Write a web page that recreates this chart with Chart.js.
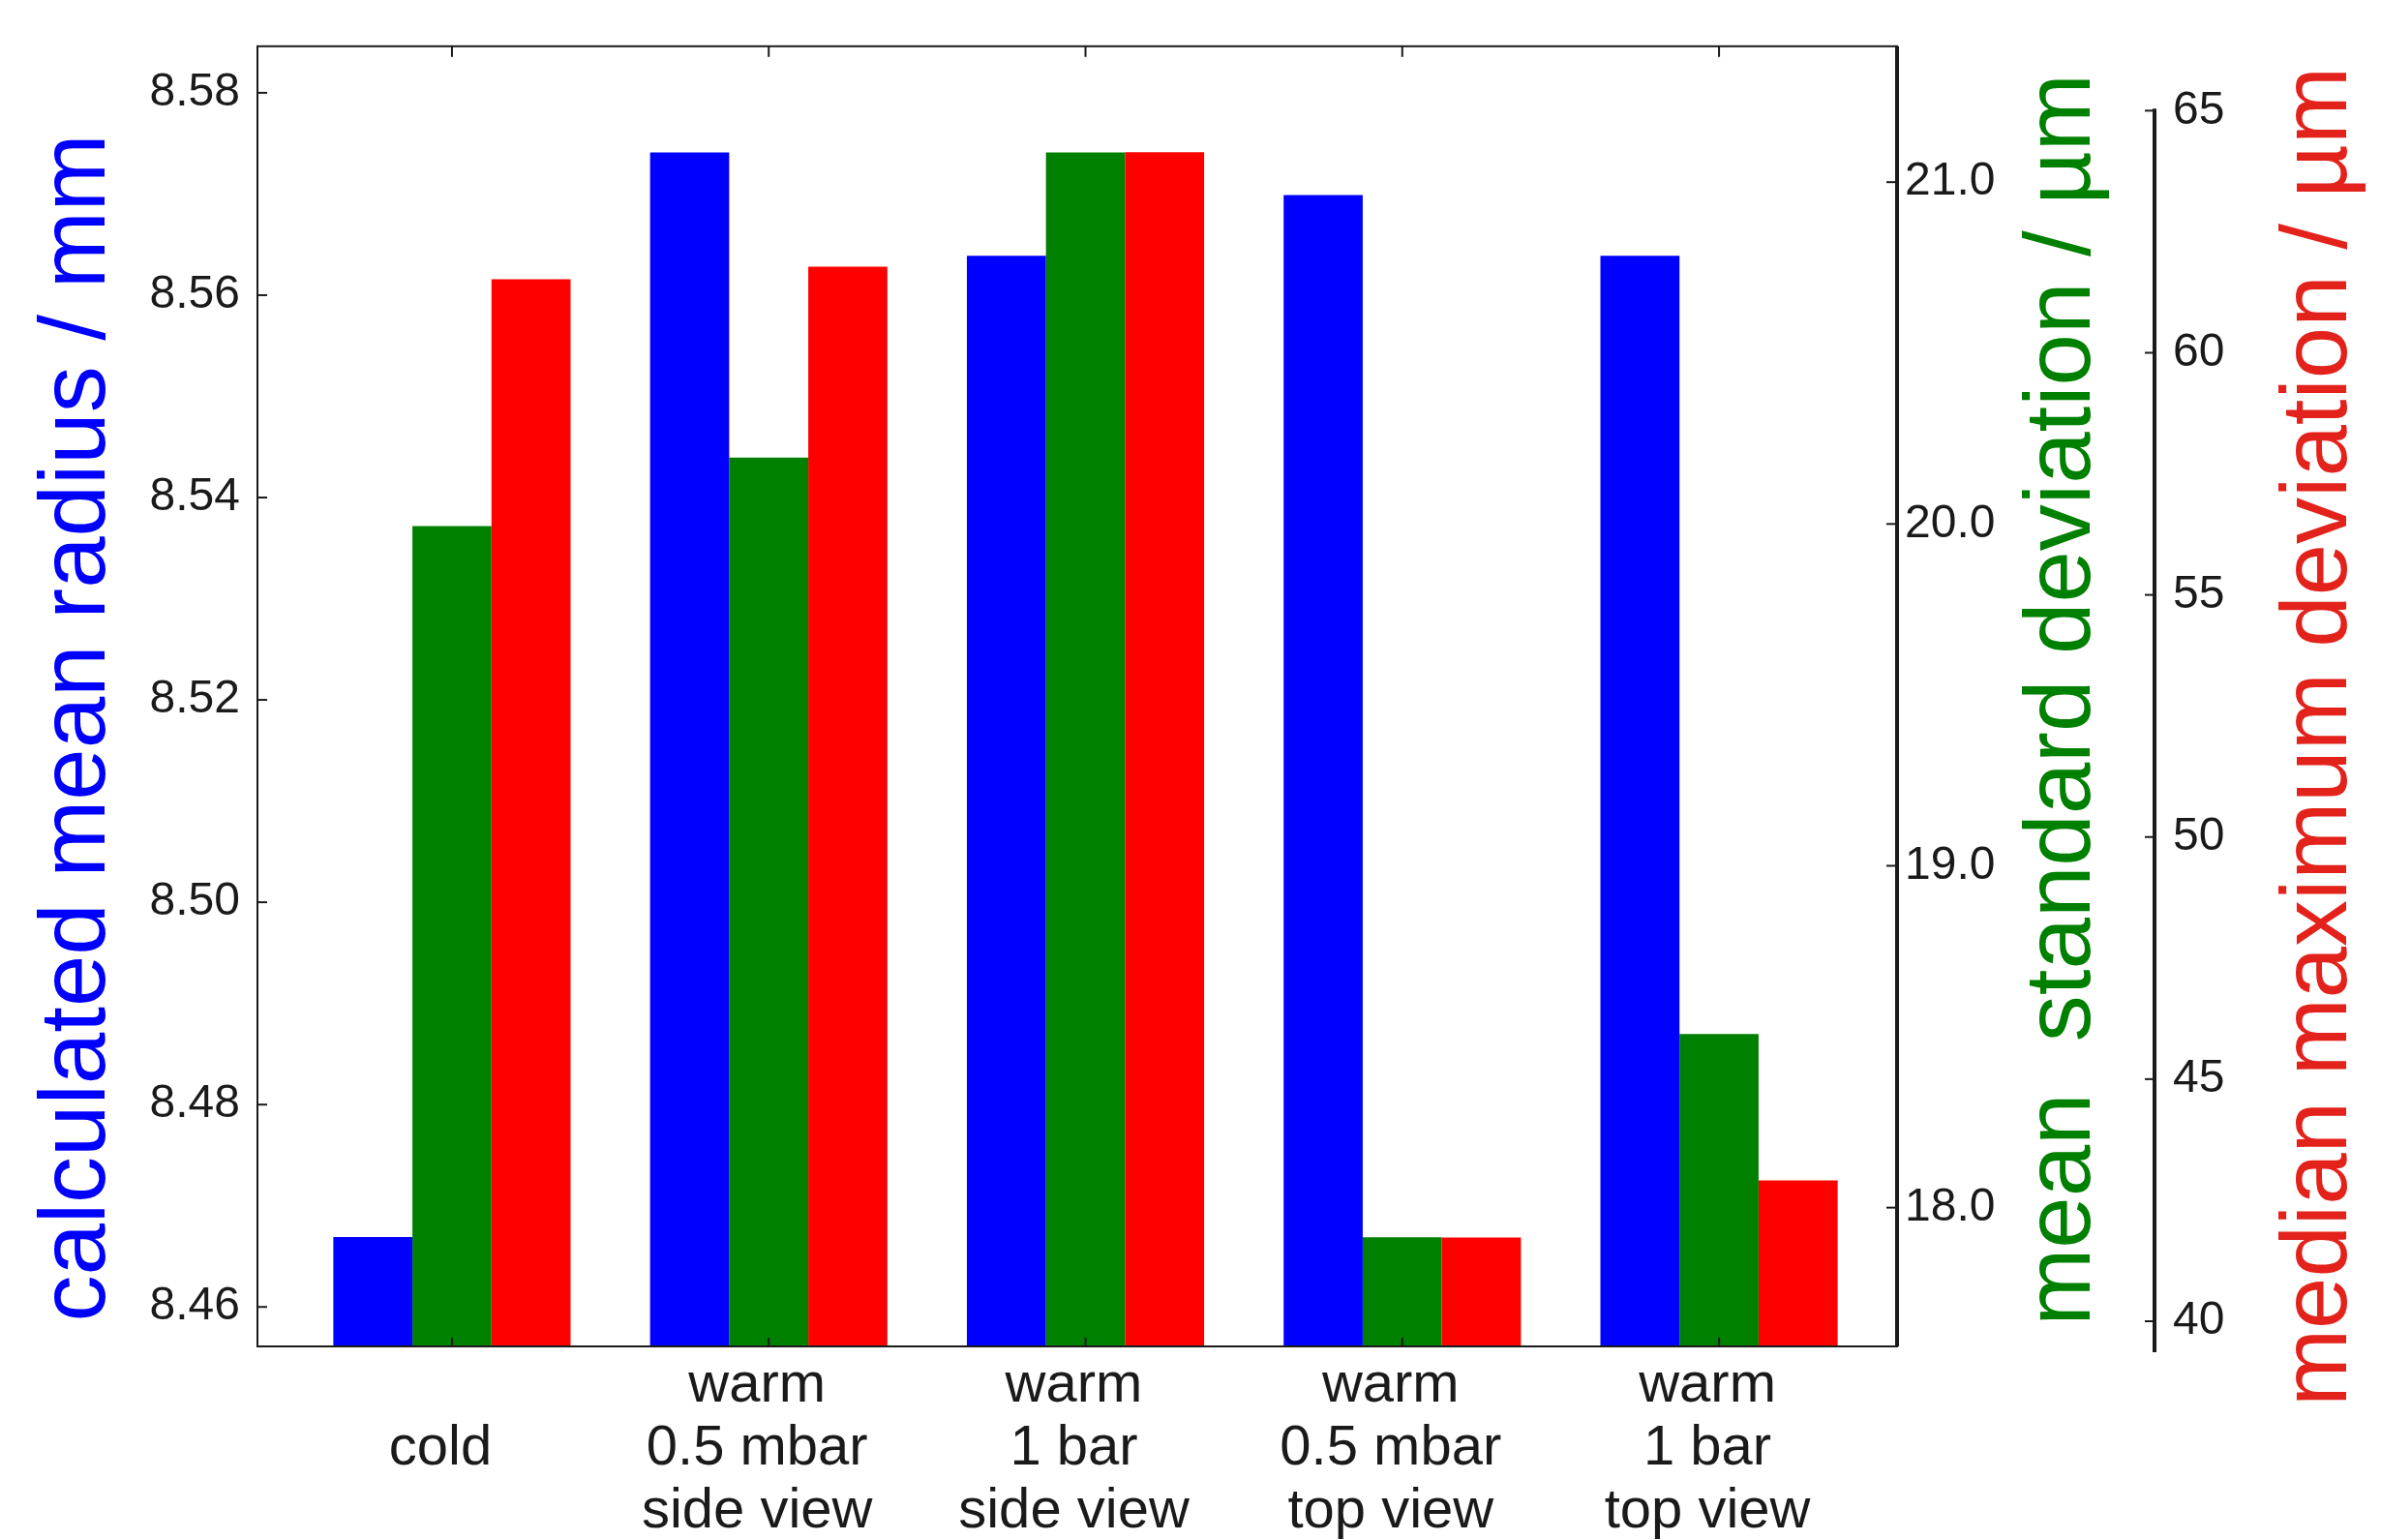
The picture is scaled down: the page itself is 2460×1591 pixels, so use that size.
<!DOCTYPE html>
<html lang="en">
<head>
  <meta charset="UTF-8">
  <title>Mean radius and deviations</title>
  <script src="https://cdn.jsdelivr.net/npm/chart.js"></script>
  <style>
    body { margin: 0; background: #fff; }
    #wrap { width: 2460px; height: 1591px; }
  </style>
</head>
<body>
<div id="wrap"><canvas id="chart"></canvas></div>

<script>
// categories (multi-line tick labels)
const categories = [
    ['', 'cold', ''],
    ['warm', '0.5 mbar', 'side view'],
    ['warm', '1 bar', 'side view'],
    ['warm', '0.5 mbar', 'top view'],
    ['warm', '1 bar', 'top view']
];

// values
const meanRadius   = [8.4669, 8.5741, 8.5639, 8.5699, 8.5639];   // mm
const meanStdDev   = [19.994, 20.194, 21.087, 17.913, 18.508];   // µm
const medianMaxDev = [61.52, 61.78, 64.14, 41.73, 42.91];        // µm

// tick labels
const radiusTicks = [8.46, 8.48, 8.50, 8.52, 8.54, 8.56, 8.58];
const stdDevTicks = [18, 19, 20, 21];
const maxDevTicks = [40, 45, 50, 55, 60, 65];

Chart.defaults.font.family = '"Liberation Sans", Arial, sans-serif';
Chart.defaults.color = '#1a1a1a';

const toPoints = arr => arr.map((v, i) => ({ x: i, y: v }));

function line(ctx, x1, y1, x2, y2) {
    ctx.beginPath();
    ctx.moveTo(x1, y1);
    ctx.lineTo(x2, y2);
    ctx.stroke();
}

// box, tick marks and the detached red axis
const frame = {
    id: 'frame',
    afterDatasetsDraw(chart) {
        const { ctx, chartArea: a, scales } = chart;
        ctx.save();
        ctx.strokeStyle = '#1a1a1a';
        ctx.lineWidth = 2;
        ctx.strokeRect(a.left, a.top, a.right - a.left, a.bottom - a.top);

        scales.x.ticks.forEach(t => {
            const x = scales.x.getPixelForValue(t.value);
            line(ctx, x, a.top, x, a.top + 11);
            line(ctx, x, a.bottom, x, a.bottom - 9);
        });
        scales.y.ticks.forEach(t => {
            const y = scales.y.getPixelForValue(t.value);
            line(ctx, a.left, y, a.left + 10, y);
        });
        scales.y1.ticks.forEach(t => {
            const y = scales.y1.getPixelForValue(t.value);
            line(ctx, a.right - 11, y, a.right, y);
        });

        const r = scales.y2;
        r.ticks.forEach(t => {
            const y = r.getPixelForValue(t.value);
            line(ctx, r.left - 10, y, r.left, y);
        });

        ctx.lineWidth = 4;
        line(ctx, a.right, a.top, a.right, a.bottom);
        line(ctx, r.left, r.getPixelForValue(65) - 2, r.left, a.bottom + 6);
        ctx.restore();
    }
};

// rotated axis titles
const titles = {
    id: 'titles',
    afterDraw(chart) {
        const ctx = chart.ctx;
        const items = [
            { text: 'calculated mean radius / mm', x: 108, y: 752, color: '#0000ff' },
            { text: 'mean  standard deviation / \u00b5m', x: 2159, y: 723, color: '#008000' },
            { text: 'median maximum deviation / \u00b5m', x: 2424, y: 761, color: '#e3221b' }
        ];
        ctx.save();
        ctx.font = '96px "Liberation Sans", Arial, sans-serif';
        ctx.textAlign = 'center';
        ctx.textBaseline = 'alphabetic';
        items.forEach(it => {
            ctx.save();
            ctx.translate(it.x, it.y);
            ctx.rotate(-Math.PI / 2);
            ctx.fillStyle = it.color;
            ctx.fillText(it.text, 0, 0);
            ctx.restore();
        });
        ctx.restore();
    }
};

new Chart(document.getElementById('chart'), {
    type: 'bar',
    data: {
        datasets: [
            { label: 'mean radius', data: toPoints(meanRadius), backgroundColor: '#0000ff', yAxisID: 'y' },
            { label: 'mean standard deviation', data: toPoints(meanStdDev), backgroundColor: '#008000', yAxisID: 'y1' },
            { label: 'median maximum deviation', data: toPoints(medianMaxDev), backgroundColor: '#ff0000', yAxisID: 'y2' }
        ]
    },
    options: {
        responsive: true,
        maintainAspectRatio: false,
        animation: false,
        layout: { padding: { top: 42, left: 0, right: 0, bottom: 0 } },
        datasets: {
            bar: { categoryPercentage: 0.749, barPercentage: 1.0, borderWidth: 0 }
        },
        plugins: {
            legend: { display: false },
            tooltip: { enabled: false }
        },
        scales: {
            x: {
                type: 'linear',
                offset: false,
                min: -0.614,
                max: 4.562,
                grid: { display: false, drawTicks: false },
                border: { display: false },
                afterBuildTicks: s => { s.ticks = categories.map((c, i) => ({ value: i })); },
                afterFit: s => { s.height = 200; },
                ticks: {
                    autoSkip: false,
                    maxRotation: 0,
                    padding: 9,
                    labelOffset: -12,
                    font: { size: 58, lineHeight: 1.12 },
                    callback: v => categories[v]
                }
            },
            y: {
                position: 'left',
                min: 8.4561,
                max: 8.5846,
                grid: { display: false, drawTicks: false },
                border: { display: false },
                afterBuildTicks: s => { s.ticks = radiusTicks.map(v => ({ value: v })); },
                afterFit: s => { s.width = 266; },
                ticks: { padding: 18, font: { size: 48 }, callback: v => v.toFixed(2) }
            },
            y1: {
                position: 'right',
                weight: 0,
                min: 17.594,
                max: 21.3975,
                grid: { display: false, drawTicks: false },
                border: { display: false },
                afterBuildTicks: s => { s.ticks = stdDevTicks.map(v => ({ value: v })); },
                afterFit: s => { s.width = 266; },
                ticks: { padding: 8, font: { size: 48 }, callback: v => v.toFixed(1) }
            },
            y2: {
                position: 'right',
                weight: 1,
                min: 39.48,
                max: 66.33,
                grid: { display: false, drawTicks: false },
                border: { display: false },
                afterBuildTicks: s => { s.ticks = maxDevTicks.map(v => ({ value: v })); },
                afterFit: s => { s.width = 234; },
                ticks: { padding: 19, font: { size: 48 }, callback: v => String(v) }
            }
        }
    },
    plugins: [frame, titles]
});
</script>
</body>
</html>
